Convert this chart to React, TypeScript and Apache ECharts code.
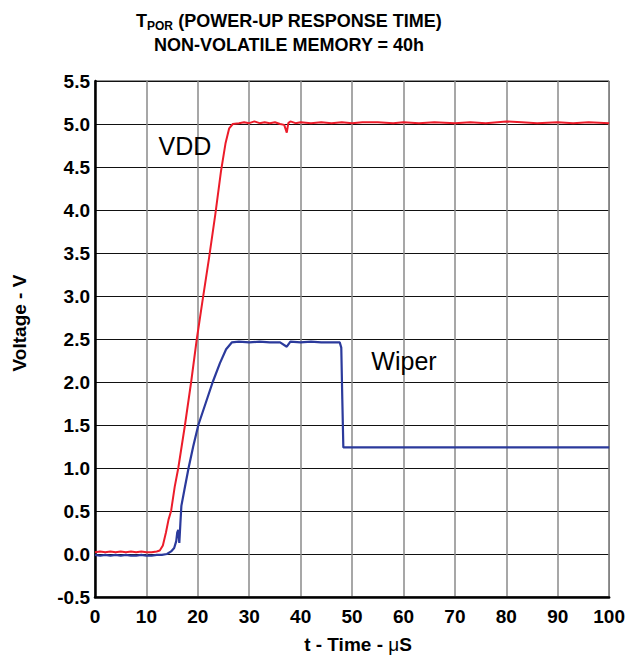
import React, { useEffect, useRef } from "react";
import * as echarts from "echarts";

// Time axis (µs) and voltage axis ranges
const xTicks = [0, 10, 20, 30, 40, 50, 60, 70, 80, 90, 100];
const yMin = -0.5;
const yMax = 5.5;
const yStep = 0.5;

// VDD supply trace: [time µs, volts]
const vddTrace: [number, number][] = [
  [0, 0.02], [1, 0.03], [2, 0.02], [3, 0.03], [4, 0.02], [5, 0.03], [6, 0.02],
  [7, 0.03], [8, 0.02], [9, 0.03], [10, 0.02], [11, 0.02], [12, 0.03], [12.6, 0.04],
  [13.2, 0.1], [13.8, 0.25], [14.3, 0.4], [14.8, 0.5], [15.5, 0.78], [16.2, 1.0],
  [17.5, 1.5], [18.7, 2.0], [19.8, 2.5], [20.9, 2.94], [22.2, 3.45], [23.4, 3.95],
  [24.5, 4.45], [25.4, 4.78], [26.1, 4.95], [26.8, 5.0], [28, 5.01], [29, 5.02],
  [30, 5.01], [31, 5.03], [32, 5.01], [33, 5.02], [34, 5.01], [35, 5.02], [36, 5.0],
  [36.8, 4.99], [37.3, 4.9], [37.6, 5.01], [38, 5.03], [39, 5.01], [40, 5.02],
  [42, 5.01], [44, 5.02], [46, 5.01], [48, 5.02], [50, 5.01], [52, 5.02], [55, 5.02],
  [58, 5.01], [60, 5.02], [63, 5.01], [66, 5.02], [70, 5.01], [73, 5.02], [76, 5.01],
  [80, 5.03], [83, 5.02], [86, 5.01], [90, 5.02], [93, 5.01], [96, 5.02], [100, 5.01],
];

// Wiper output trace: [time µs, volts]
const wiperTrace: [number, number][] = [
  [0, -0.01], [1, -0.02], [2, -0.01], [3, -0.02], [4, -0.01], [5, -0.02], [6, -0.01],
  [7, -0.02], [8, -0.02], [9, -0.01], [10, -0.02], [11, -0.02], [12, -0.01],
  [13, -0.01], [14, 0.0], [14.8, 0.03], [15.4, 0.07], [15.8, 0.15], [16.0, 0.25],
  [16.2, 0.28], [16.4, 0.13], [16.6, 0.35], [16.8, 0.56], [17.4, 0.75], [18.2, 1.0],
  [19.1, 1.25], [20.1, 1.5], [21.5, 1.75], [22.9, 2.0], [24.3, 2.22], [25.5, 2.38],
  [26.6, 2.46], [28, 2.47], [30, 2.46], [32, 2.47], [34, 2.46], [36, 2.46],
  [37.3, 2.41], [38, 2.47], [40, 2.46], [42, 2.47], [44, 2.46], [46, 2.46],
  [47.6, 2.46], [47.9, 2.4], [48.1, 1.8], [48.3, 1.24], [50, 1.24], [55, 1.24],
  [60, 1.24], [65, 1.24], [70, 1.24], [75, 1.24], [80, 1.24], [85, 1.24], [90, 1.24],
  [95, 1.24], [100, 1.24],
];

// Trace names and where their captions sit (data coordinates)
const traceNames = ["VDD", "Wiper"];
const captionAt: [number, number][] = [
  [17.5, 4.74],
  [60.1, 2.24],
];

const FONT = "'Liberation Sans', Arial, Helvetica, sans-serif";

export default function App() {
  const ref = useRef<HTMLDivElement>(null);

  useEffect(() => {
    if (!ref.current) return;
    const chart = echarts.init(ref.current, undefined, { renderer: "svg" });

    const caption = (i: number) => ({
      symbol: "circle",
      symbolSize: 1,
      itemStyle: { color: "rgba(0,0,0,0)" },
      silent: true,
      data: [
        {
          coord: captionAt[i],
          label: {
            show: true,
            formatter: traceNames[i],
            fontSize: 25,
            fontFamily: FONT,
            color: "#000",
            position: "inside",
          },
        },
      ],
    });

    chart.setOption({
      animation: false,
      backgroundColor: "#fff",
      grid: {
        left: 95,
        right: 18,
        top: 81,
        bottom: 59,
        show: true,
        borderColor: "#222",
        borderWidth: 1,
        backgroundColor: "transparent",
      },
      graphic: [
        {
          type: "text",
          x: 289,
          y: 22,
          style: {
            text: "{t|T}{s|POR}{t| (POWER-UP RESPONSE TIME)}",
            align: "center",
            verticalAlign: "middle",
            rich: {
              t: { fontSize: 18, fontWeight: "bold", fontFamily: FONT, color: "#000", lineHeight: 20, verticalAlign: "top" },
              s: { fontSize: 12, fontWeight: "bold", fontFamily: FONT, color: "#000", lineHeight: 14, verticalAlign: "bottom", padding: [10, 0, 0, 0] },
            },
          },
        },
        {
          type: "text",
          x: 289,
          y: 45,
          style: {
            text: "NON-VOLATILE MEMORY = 40h",
            align: "center",
            verticalAlign: "middle",
            fontSize: 18,
            fontWeight: "bold",
            fontFamily: FONT,
            fill: "#000",
          },
        },
        {
          type: "text",
          x: 19,
          y: 323,
          rotation: Math.PI / 2,
          style: {
            text: "Voltage - V",
            align: "center",
            verticalAlign: "middle",
            fontSize: 19,
            fontWeight: "bold",
            fontFamily: FONT,
            fill: "#000",
          },
        },
        {
          type: "text",
          x: 358,
          y: 644,
          style: {
            text: "{b|t - Time - }{m|μ}{b|S}",
            align: "center",
            verticalAlign: "middle",
            rich: {
              b: { fontSize: 19, fontWeight: "bold", fontFamily: FONT, color: "#000" },
              m: { fontSize: 19, fontWeight: "normal", fontFamily: FONT, color: "#000" },
            },
          },
        },
      ],
      xAxis: {
        type: "value",
        min: xTicks[0],
        max: xTicks[xTicks.length - 1],
        interval: 10,
        axisLine: { show: true, onZero: false, lineStyle: { color: "#000", width: 2.5 } },
        axisTick: { show: false },
        axisLabel: {
          fontSize: 19,
          fontWeight: "bold",
          fontFamily: FONT,
          color: "#000",
          margin: 10,
        },
        splitLine: { show: true, lineStyle: { color: "#8a8a8a", width: 1.5 } },
      },
      yAxis: {
        type: "value",
        min: yMin,
        max: yMax,
        interval: yStep,
        axisLine: { show: true, onZero: false, lineStyle: { color: "#000", width: 2.5 } },
        axisTick: { show: false },
        axisLabel: {
          fontSize: 19,
          fontWeight: "bold",
          fontFamily: FONT,
          color: "#000",
          margin: 5,
          formatter: (v: number) => v.toFixed(1),
        },
        splitLine: { show: true, lineStyle: { color: "#111", width: 1.2 } },
      },
      series: [
        {
          name: traceNames[0],
          type: "line",
          data: vddTrace,
          symbol: "none",
          lineStyle: { color: "#ec1c2a", width: 2 },
          itemStyle: { color: "#ec1c2a" },
          z: 3,
          markPoint: caption(0),
        },
        {
          name: traceNames[1],
          type: "line",
          data: wiperTrace,
          symbol: "none",
          lineStyle: { color: "#2b3a9c", width: 2.2 },
          itemStyle: { color: "#2b3a9c" },
          z: 4,
          markPoint: caption(1),
        },
      ],
    });

    return () => chart.dispose();
  }, []);

  return (
    <div
      ref={ref}
      style={{ position: "fixed", left: 0, top: 0, width: 628, height: 656 }}
    />
  );
}
